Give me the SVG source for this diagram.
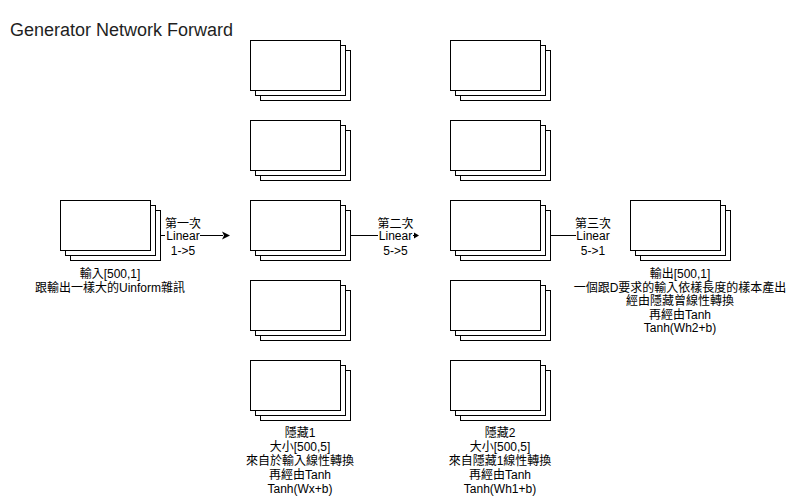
<svg xmlns="http://www.w3.org/2000/svg" width="787" height="497" viewBox="0 0 787 497">
<style>
text{font-family:"Liberation Sans","Noto Sans CJK TC",sans-serif;font-size:12px;fill:#000;text-anchor:middle}
.title{font-size:18px;text-anchor:start;fill:#1f1f1f}
.conn line{stroke:#000;stroke-width:1}
.conn polygon{fill:#000;stroke:none}
.bg{fill:#fff;stroke:none}
</style>
<defs>
<g id="stack">
<rect x="10.5" y="10.5" width="90" height="50" fill="#fff" stroke="#000" stroke-width="1"/>
<rect x="5.5" y="5.5" width="90" height="50" fill="#fff" stroke="#000" stroke-width="1"/>
<rect x="0.5" y="0.5" width="90" height="50" fill="#fff" stroke="#000" stroke-width="1"/>
</g>
</defs>
<rect width="787" height="497" fill="#fff"/>
<text class="title" x="10" y="36">Generator Network Forward</text>

<g id="connectors" class="conn">
<g id="e1">
<line x1="160" y1="235.5" x2="223" y2="235.5"/>
<polygon points="230,235.5 222,231.5 224,235.5 222,239.5"/>
<rect class="bg" x="165" y="229" width="35" height="13"/>
<text x="183" y="227.5">第一次</text>
<text x="183" y="240">Linear</text>
<text x="183" y="255">1-&gt;5</text>
</g>
<g id="e2">
<line x1="350" y1="235.5" x2="415" y2="235.5"/>
<polygon points="419,235.5 414,232.5 414,238.5"/>
<rect class="bg" x="378" y="229" width="35" height="13"/>
<text x="395.5" y="227.5">第二次</text>
<text x="395.5" y="240">Linear</text>
<text x="395.5" y="255">5-&gt;5</text>
</g>
<g id="e3">
<line x1="550" y1="235.5" x2="590" y2="235.5"/>
<rect class="bg" x="576" y="229" width="35" height="13"/>
<text x="593" y="227.5">第三次</text>
<text x="593" y="240">Linear</text>
<text x="593" y="255">5-&gt;1</text>
</g>
</g>

<g id="input">
<use href="#stack" x="60" y="200"/>
<text x="110" y="278">輸入[500,1]</text>
<text x="110" y="292">跟輸出一樣大的Uinform雜訊</text>
</g>

<g id="hidden1">
<use href="#stack" x="250" y="40"/>
<use href="#stack" x="250" y="120"/>
<use href="#stack" x="250" y="200"/>
<use href="#stack" x="250" y="280"/>
<use href="#stack" x="250" y="360"/>
<text x="300" y="437">隱藏1</text>
<text x="300" y="451">大小[500,5]</text>
<text x="300" y="465">來自於輸入線性轉換</text>
<text x="300" y="479">再經由Tanh</text>
<text x="300" y="493">Tanh(Wx+b)</text>
</g>

<g id="hidden2">
<use href="#stack" x="450" y="40"/>
<use href="#stack" x="450" y="120"/>
<use href="#stack" x="450" y="200"/>
<use href="#stack" x="450" y="280"/>
<use href="#stack" x="450" y="360"/>
<text x="500" y="437">隱藏2</text>
<text x="500" y="451">大小[500,5]</text>
<text x="500" y="465">來自隱藏1線性轉換</text>
<text x="500" y="479">再經由Tanh</text>
<text x="500" y="493">Tanh(Wh1+b)</text>
</g>

<g id="output">
<use href="#stack" x="630" y="200"/>
<text x="680" y="278">輸出[500,1]</text>
<text x="680" y="291.5">一個跟D要求的輸入依樣長度的樣本產出</text>
<text x="680" y="305">經由隱藏曾線性轉換</text>
<text x="680" y="318.5">再經由Tanh</text>
<text x="680" y="332">Tanh(Wh2+b)</text>
</g>
</svg>
